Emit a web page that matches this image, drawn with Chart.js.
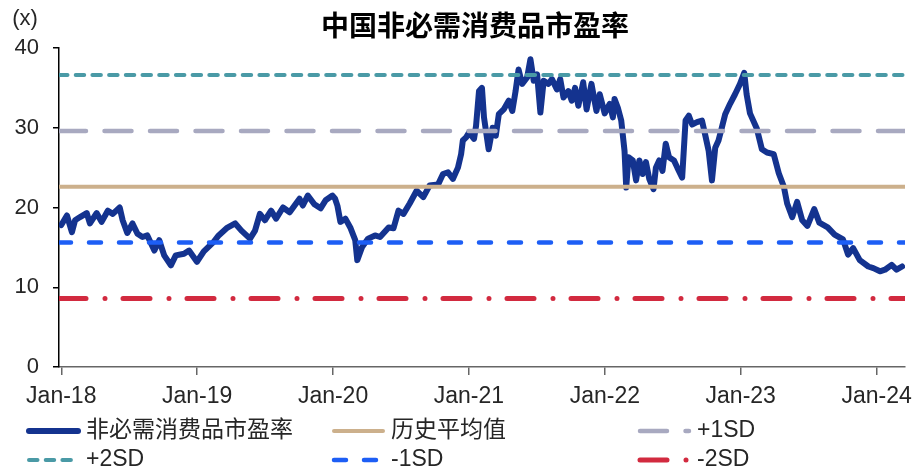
<!DOCTYPE html>
<html>
<head>
<meta charset="utf-8">
<script src="https://cdn.jsdelivr.net/npm/chart.js@4.4.1/dist/chart.umd.min.js"></script>
<style>
  html, body { margin: 0; padding: 0; background: #fff; }
  #wrap { width: 920px; height: 471px; position: relative; }
</style>
</head>
<body>
<div id="wrap"><canvas id="chart"></canvas></div>
<script>
// months counted from Jan-2018
const monthsFromJan18 = [
  0, 0.5, 0.94, 1.22, 1.66, 2.25, 2.53, 3.12, 3.56, 4.11, 4.55, 5.16, 5.42, 5.83, 6.29, 6.73,
  7.17, 7.6, 8.22, 8.65, 9.09, 9.68, 10.11, 10.84, 11.28, 11.98, 12.59, 13.46, 13.9, 14.6, 15.36,
  15.91, 16.67, 17.11, 17.54, 17.98, 18.53, 18.97, 19.58, 20.17, 21.04, 21.33, 21.77, 22.35, 22.9,
  23.34, 23.95, 24.18, 24.39, 24.65, 25.09, 25.52, 25.96, 26.14, 26.55, 27.1, 27.71, 28.15, 28.91,
  29.34, 29.78, 30.22, 30.77, 31.38, 31.97, 32.52, 33.28, 33.71, 34.15, 34.59, 35.03, 35.31, 35.46,
  35.75, 36.01, 36.45, 36.63, 36.89, 37.15, 37.33, 37.74, 38.09, 38.37, 38.64, 39.07, 39.51, 39.83,
  40.12, 40.38, 40.7, 41.14, 41.43, 41.72, 42.02, 42.31, 42.6, 43.03, 43.33, 43.77, 44.06, 44.35,
  44.78, 45.08, 45.37, 45.66, 46.09, 46.39, 46.82, 47.26, 47.55, 47.99, 48.43, 48.71, 48.86, 49.15,
  49.45, 49.74, 49.89, 50.09, 50.47, 50.76, 51.05, 51.34, 51.63, 51.92, 52.3, 52.51, 52.8, 53.09,
  53.38, 53.67, 54.11, 54.4, 54.83, 55.13, 55.42, 55.71, 56.14, 56.58, 56.88, 57.17, 57.46, 57.75,
  58.04, 58.33, 58.63, 59.06, 59.5, 59.94, 60.31, 60.52, 60.82, 61.42, 61.87, 62.32, 62.91, 63.36,
  63.81, 64.1, 64.55, 64.98, 65.43, 65.89, 66.49, 66.94, 67.68, 68.29, 69.03, 69.48, 69.93, 70.51,
  71.27, 71.71, 72.3, 72.74, 73.33, 73.76, 74.25
]

const pe = [
  17.8, 19.0, 16.9, 18.4, 18.8, 19.3, 18.0, 19.3, 18.2, 19.6, 19.2, 20.0, 18.4, 16.8, 18.0, 16.7,
  16.3, 16.5, 14.6, 15.9, 14.0, 12.75, 14.0, 14.2, 14.6, 13.2, 14.5, 15.7, 16.5, 17.4, 18.0,
  17.1, 16.1, 17.1, 19.2, 18.4, 19.6, 18.6, 20.0, 19.4, 21.1, 20.25, 21.5, 20.4, 19.9,
  20.9, 21.5, 21.1, 20.2, 18.2, 18.6, 17.5, 15.9, 13.4, 15.0, 16.1, 16.5, 16.3, 17.5,
  17.4, 19.6, 19.2, 20.5, 22.1, 21.3, 22.75, 22.9, 24.2, 24.4, 23.6, 25.0, 26.7, 28.4,
  28.8, 29.4, 28.6, 30.25, 34.6, 35.0, 31.3, 27.3, 30.0, 29.0, 31.7, 32.3, 33.4, 32.1,
  34.6, 37.3, 35.5, 36.3, 38.6, 35.9, 36.7, 31.9, 35.9, 35.5, 36.1, 34.8, 36.1, 33.8,
  34.6, 33.4, 35.0, 32.75, 35.7, 32.3, 35.5, 32.1, 34.2, 31.8, 33.0, 31.3, 33.6, 32.5,
  30.9, 27.1, 22.5, 26.3, 25.9, 23.4, 25.9, 24.2, 25.7, 23.6, 22.3, 25.0, 25.9, 24.6,
  28.0, 26.3, 25.9, 25.0, 23.75, 30.9, 31.5, 30.4, 30.7, 30.9, 29.0, 27.1, 23.4, 27.5,
  28.4, 30.0, 31.7, 33.0, 34.2, 35.5, 36.9, 34.2, 31.8, 29.9, 27.3, 26.9, 26.7, 24.3,
  22.6, 20.5, 18.8, 20.7, 18.4, 17.7, 19.8, 18.1, 17.5, 16.6, 16.0, 14.1, 14.9, 13.4,
  12.6, 12.4, 12.0, 12.2, 12.8, 12.2, 12.6
]

const avgPE = 22.6
const plus1SD = 29.6
const plus2SD = 36.6
const minus1SD = 15.6
const minus2SD = 8.6

const tickMonths = [0, 12, 24, 36, 48, 60, 72]
const tickLabels = ['Jan-18', 'Jan-19', 'Jan-20', 'Jan-21', 'Jan-22', 'Jan-23', 'Jan-24']

const xMin = -0.2
const xMax = 74.5

const latin = "'Liberation Sans', 'Noto Sans CJK SC', sans-serif"
const cjk = "'Noto Sans CJK SC', sans-serif"

function flat(v) {
  return [{ x: xMin, y: v }, { x: xMax, y: v }]
}

function refLine(label, v, color, width, dash) {
  return {
    label: label,
    data: flat(v),
    borderColor: color,
    borderWidth: width,
    borderDash: dash,
    borderCapStyle: 'round',
    pointRadius: 0,
    order: 1
  }
}

const datasets = [
  {
    label: '非必需消费品市盈率',
    data: monthsFromJan18.map((m, i) => ({ x: m, y: pe[i] })),
    borderColor: '#14338f',
    borderWidth: 6,
    borderCapStyle: 'round',
    borderJoinStyle: 'round',
    pointRadius: 0,
    tension: 0,
    order: 5
  },
  refLine('历史平均值', avgPE, '#ccb08c', 4, []),
  refLine('+1SD', plus1SD, '#a8a9c0', 4.5, [27, 18.5]),
  refLine('+2SD', plus2SD, '#4a9aa6', 4, [8.5, 8.2]),
  refLine('-1SD', minus1SD, '#1d5ef5', 4.5, [12, 18]),
  refLine('-2SD', minus2SD, '#d22a3f', 5, [27, 19, 0, 18])
]

// title, unit label and a three-column legend under the axis
const decorations = {
  id: 'decorations',
  afterDraw(chart) {
    const c = chart.ctx
    c.save()
    c.fillStyle = '#000'
    c.textAlign = 'center'
    c.textBaseline = 'middle'
    c.font = `bold 28px ${cjk}`
    c.fillText('中国非必需消费品市盈率', 475, 25)
    c.font = `22px ${latin}`
    c.fillStyle = '#262626'
    c.fillText('(x)', 25, 19)

    const cols = [27, 332, 638]
    const rows = [431, 460]
    const sample = 53
    chart.data.datasets.forEach((ds, i) => {
      const x = cols[i % 3]
      const y = rows[Math.floor(i / 3)]
      c.beginPath()
      c.strokeStyle = ds.borderColor
      c.lineWidth = ds.borderWidth
      c.lineCap = 'round'
      c.setLineDash(ds.borderDash || [])
      c.moveTo(x + 2, y)
      c.lineTo(x + sample - 2, y)
      c.stroke()
      c.setLineDash([])
      c.fillStyle = '#262626'
      c.textAlign = 'left'
      c.font = `23px ${latin}`
      c.fillText(ds.label, x + sample + 6, y)
    })
    c.restore()
  }
}

new Chart(document.getElementById('chart'), {
  type: 'line',
  data: { datasets: datasets },
  options: {
    responsive: true,
    maintainAspectRatio: false,
    animation: false,
    layout: { padding: { top: 48, right: 7, left: 0, bottom: 0 } },
    plugins: {
      legend: { display: false },
      title: { display: false },
      tooltip: { enabled: false }
    },
    scales: {
      x: {
        type: 'linear',
        min: xMin,
        max: xMax,
        afterBuildTicks: s => { s.ticks = tickMonths.map(v => ({ value: v })) },
        afterFit: s => { s.height = 104 },
        ticks: {
          callback: (v, i) => tickLabels[i],
          autoSkip: false,
          maxRotation: 0,
          padding: 8,
          color: '#262626',
          font: { family: latin, size: 23 }
        },
        grid: { drawOnChartArea: false, drawTicks: true, tickLength: 8, color: '#666', lineWidth: 1.5 },
        border: { display: true, color: '#666', width: 1.5 }
      },
      y: {
        min: 0,
        max: 40,
        afterFit: s => { s.width = 59 },
        ticks: {
          stepSize: 10,
          padding: 14,
          color: '#262626',
          font: { family: latin, size: 22 }
        },
        grid: { drawOnChartArea: false, drawTicks: true, tickLength: 6, color: '#000', lineWidth: 1.5 },
        border: { display: true, color: '#000', width: 1.5 }
      }
    }
  },
  plugins: [decorations]
})
</script>
</body>
</html>
